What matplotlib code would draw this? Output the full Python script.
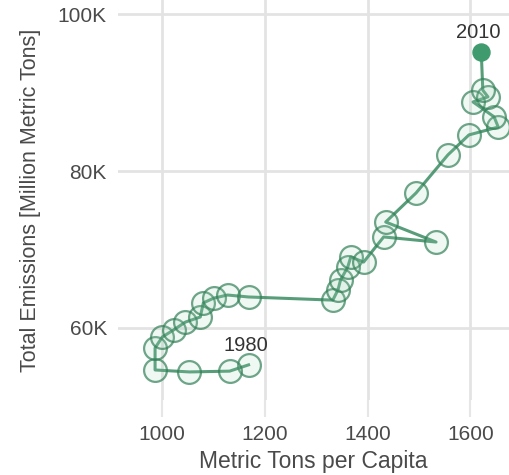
import matplotlib.pyplot as plt

# Yearly points, 1980 through 2010
years = list(range(1980, 2011))
per_capita = [1168, 1131, 1053, 986, 986, 1000, 1022, 1045, 1074, 1080,
              1100, 1127, 1168, 1332, 1342, 1347, 1361, 1367, 1392, 1431,
              1533, 1435, 1494, 1556, 1597, 1654, 1646, 1605, 1634, 1624,
              1621]
total_emissions = [55300, 54500, 54400, 54650, 57450, 58850, 59750, 60750,
                   61400, 63200, 63800, 64200, 63950, 63550, 64850, 66100,
                   67750, 69050, 68400, 71600, 70950, 73500, 77200, 82050,
                   84600, 85600, 86900, 88800, 89450, 90300, 95150]
x_ticks = [1000, 1200, 1400, 1600]
y_ticks = [60000, 80000, 100000]
y_tick_labels = ['60K', '80K', '100K']

plt.rcParams['font.family'] = ['Liberation Sans', 'DejaVu Sans']

green = '#3a8c62'
text_gray = '#4a4a4a'

fig = plt.figure(figsize=(5.09, 4.75), dpi=100)
ax = fig.add_axes([0.232, 0.158, 0.768, 0.842])

ax.plot(per_capita, total_emissions, color=green, lw=2.2, alpha=0.85, zorder=2)
ax.scatter(per_capita[:-1], total_emissions[:-1], s=270, facecolor=(0.6, 0.82, 0.7, 0.15),
           edgecolor=(0.2, 0.5, 0.34, 0.7), linewidth=1.6, zorder=3)
ax.scatter(per_capita[-1:], total_emissions[-1:], s=150, color='#3f9b6d', zorder=4)

ax.annotate(str(years[0]), (per_capita[0], total_emissions[0]), xytext=(-2, 7),
            textcoords='offset points', ha='center', va='bottom', fontsize=14.5, color='#333333')
ax.annotate(str(years[-1]), (per_capita[-1], total_emissions[-1]), xytext=(-2, 7),
            textcoords='offset points', ha='center', va='bottom', fontsize=14.5, color='#333333')

ax.set_xlim(914, 1675)
ax.set_ylim(50830, 101790)
ax.set_xticks(x_ticks)
ax.set_yticks(y_ticks)
ax.set_yticklabels(y_tick_labels)
ax.grid(True, color='#e3e3e3', lw=2)
ax.set_axisbelow(True)
for s in ax.spines.values():
    s.set_visible(False)
ax.tick_params(axis='x', length=12, width=1.5, color='#e6e6e6', pad=6,
               labelsize=15, labelcolor=text_gray)
ax.tick_params(axis='y', length=0, pad=8, labelsize=15, labelcolor=text_gray)

ax.set_xlabel('Metric Tons per Capita', fontsize=16.5, color=text_gray, labelpad=4)
ax.set_ylabel('Total Emissions [Million Metric Tons]', fontsize=15.5, color=text_gray, labelpad=12)

fig.savefig('out.png', dpi=100)
